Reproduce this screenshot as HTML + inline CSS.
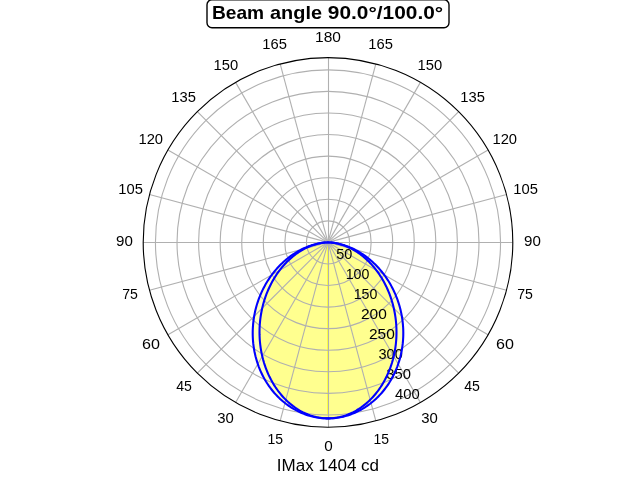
<!DOCTYPE html><html><head><meta charset="utf-8"><style>html,body{margin:0;padding:0;background:#fff;overflow:hidden}svg{display:block;will-change:transform}text{font-family:"Liberation Sans",sans-serif;fill:#000}</style></head><body>
<svg width="640" height="480" viewBox="0 0 640 480">
<rect width="640" height="480" fill="#fff"/>
<path d="M328.00 242.40 L327.63 242.40 L327.11 242.42 L326.50 242.44 L325.83 242.48 L325.12 242.53 L324.36 242.59 L323.58 242.67 L322.77 242.77 L321.93 242.88 L321.07 243.01 L320.19 243.15 L319.29 243.32 L318.38 243.50 L317.45 243.70 L316.51 243.91 L315.55 244.15 L314.58 244.41 L313.61 244.68 L312.62 244.97 L311.62 245.29 L310.62 245.62 L309.61 245.97 L308.59 246.35 L307.57 246.74 L306.54 247.16 L305.51 247.59 L304.47 248.05 L303.43 248.52 L302.39 249.02 L301.35 249.54 L300.30 250.08 L299.26 250.64 L298.21 251.22 L297.17 251.83 L296.13 252.45 L295.08 253.10 L294.04 253.76 L293.00 254.45 L291.97 255.16 L290.94 255.89 L289.91 256.64 L288.89 257.41 L287.87 258.21 L286.86 259.02 L285.85 259.86 L284.85 260.72 L283.86 261.59 L282.87 262.49 L281.89 263.41 L280.93 264.35 L279.97 265.31 L279.02 266.29 L278.08 267.29 L277.15 268.31 L276.23 269.35 L275.32 270.41 L274.42 271.49 L273.54 272.59 L272.67 273.71 L271.81 274.84 L270.96 276.00 L270.13 277.17 L269.31 278.36 L268.51 279.57 L267.73 280.80 L266.96 282.04 L266.20 283.30 L265.46 284.58 L264.74 285.88 L264.04 287.19 L263.35 288.51 L262.68 289.86 L262.03 291.21 L261.40 292.59 L260.79 293.97 L260.20 295.37 L259.63 296.79 L259.07 298.22 L258.54 299.66 L258.03 301.11 L257.54 302.58 L257.08 304.05 L256.63 305.54 L256.21 307.04 L255.81 308.55 L255.43 310.07 L255.08 311.60 L254.75 313.14 L254.44 314.68 L254.16 316.24 L253.90 317.80 L253.67 319.37 L253.46 320.95 L253.28 322.53 L253.12 324.12 L252.99 325.71 L252.88 327.31 L252.80 328.91 L252.74 330.52 L252.71 332.12 L252.71 333.73 L252.73 335.35 L252.78 336.96 L252.86 338.57 L252.96 340.19 L253.10 341.80 L253.25 343.41 L253.44 345.02 L253.65 346.63 L253.89 348.24 L254.16 349.84 L254.45 351.44 L254.78 353.03 L255.13 354.62 L255.50 356.20 L255.91 357.77 L256.34 359.34 L256.80 360.90 L257.28 362.45 L257.80 364.00 L258.34 365.53 L258.90 367.05 L259.50 368.56 L260.12 370.06 L260.77 371.55 L261.44 373.03 L262.14 374.49 L262.87 375.94 L263.62 377.37 L264.40 378.79 L265.21 380.19 L266.03 381.58 L266.89 382.95 L267.77 384.30 L268.67 385.63 L269.60 386.94 L270.55 388.24 L271.53 389.51 L272.53 390.77 L273.55 392.00 L274.59 393.21 L275.66 394.40 L276.75 395.57 L277.86 396.71 L278.99 397.83 L280.15 398.92 L281.32 399.99 L282.51 401.04 L283.72 402.05 L284.96 403.04 L286.21 404.01 L287.47 404.94 L288.76 405.85 L290.06 406.73 L291.38 407.59 L292.71 408.41 L294.06 409.20 L295.43 409.96 L296.81 410.69 L298.20 411.39 L299.61 412.06 L301.03 412.70 L302.46 413.30 L303.90 413.88 L305.35 414.42 L306.82 414.92 L308.29 415.40 L309.77 415.84 L311.26 416.24 L312.76 416.61 L314.26 416.95 L315.77 417.25 L317.29 417.52 L318.81 417.75 L320.34 417.95 L321.86 418.11 L323.40 418.24 L324.93 418.33 L326.46 418.38 L328.00 418.40 L329.54 418.38 L331.07 418.33 L332.60 418.24 L334.14 418.11 L335.66 417.95 L337.19 417.75 L338.71 417.52 L340.23 417.25 L341.74 416.95 L343.24 416.61 L344.74 416.24 L346.23 415.84 L347.71 415.40 L349.18 414.92 L350.65 414.42 L352.10 413.88 L353.54 413.30 L354.97 412.70 L356.39 412.06 L357.80 411.39 L359.19 410.69 L360.57 409.96 L361.94 409.20 L363.29 408.41 L364.62 407.59 L365.94 406.73 L367.24 405.85 L368.53 404.94 L369.79 404.01 L371.04 403.04 L372.28 402.05 L373.49 401.04 L374.68 399.99 L375.85 398.92 L377.01 397.83 L378.14 396.71 L379.25 395.57 L380.34 394.40 L381.41 393.21 L382.45 392.00 L383.47 390.77 L384.47 389.51 L385.45 388.24 L386.40 386.94 L387.33 385.63 L388.23 384.30 L389.11 382.95 L389.97 381.58 L390.79 380.19 L391.60 378.79 L392.38 377.37 L393.13 375.94 L393.86 374.49 L394.56 373.03 L395.23 371.55 L395.88 370.06 L396.50 368.56 L397.10 367.05 L397.66 365.53 L398.20 364.00 L398.72 362.45 L399.20 360.90 L399.66 359.34 L400.09 357.77 L400.50 356.20 L400.87 354.62 L401.22 353.03 L401.55 351.44 L401.84 349.84 L402.11 348.24 L402.35 346.63 L402.56 345.02 L402.75 343.41 L402.90 341.80 L403.04 340.19 L403.14 338.57 L403.22 336.96 L403.27 335.35 L403.29 333.73 L403.29 332.12 L403.26 330.52 L403.20 328.91 L403.12 327.31 L403.01 325.71 L402.88 324.12 L402.72 322.53 L402.54 320.95 L402.33 319.37 L402.10 317.80 L401.84 316.24 L401.56 314.68 L401.25 313.14 L400.92 311.60 L400.57 310.07 L400.19 308.55 L399.79 307.04 L399.37 305.54 L398.92 304.05 L398.46 302.58 L397.97 301.11 L397.46 299.66 L396.93 298.22 L396.37 296.79 L395.80 295.37 L395.21 293.97 L394.60 292.59 L393.97 291.21 L393.32 289.86 L392.65 288.51 L391.96 287.19 L391.26 285.88 L390.54 284.58 L389.80 283.30 L389.04 282.04 L388.27 280.80 L387.49 279.57 L386.69 278.36 L385.87 277.17 L385.04 276.00 L384.19 274.84 L383.33 273.71 L382.46 272.59 L381.58 271.49 L380.68 270.41 L379.77 269.35 L378.85 268.31 L377.92 267.29 L376.98 266.29 L376.03 265.31 L375.07 264.35 L374.11 263.41 L373.13 262.49 L372.14 261.59 L371.15 260.72 L370.15 259.86 L369.14 259.02 L368.13 258.21 L367.11 257.41 L366.09 256.64 L365.06 255.89 L364.03 255.16 L363.00 254.45 L361.96 253.76 L360.92 253.10 L359.87 252.45 L358.83 251.83 L357.79 251.22 L356.74 250.64 L355.70 250.08 L354.65 249.54 L353.61 249.02 L352.57 248.52 L351.53 248.05 L350.49 247.59 L349.46 247.16 L348.43 246.74 L347.41 246.35 L346.39 245.97 L345.38 245.62 L344.38 245.29 L343.38 244.97 L342.39 244.68 L341.42 244.41 L340.45 244.15 L339.49 243.91 L338.55 243.70 L337.62 243.50 L336.71 243.32 L335.81 243.15 L334.93 243.01 L334.07 242.88 L333.23 242.77 L332.42 242.67 L331.64 242.59 L330.88 242.53 L330.17 242.48 L329.50 242.44 L328.89 242.42 L328.37 242.40 L328.00 242.40 Z" fill="#ffff00" fill-opacity="0.25" stroke="none"/>
<path d="M328.00 242.40 L327.63 242.40 L327.12 242.42 L326.53 242.44 L325.90 242.47 L325.23 242.52 L324.54 242.58 L323.82 242.66 L323.09 242.74 L322.33 242.85 L321.57 242.96 L320.79 243.09 L320.00 243.24 L319.20 243.40 L318.40 243.58 L317.58 243.77 L316.76 243.98 L315.93 244.20 L315.10 244.44 L314.26 244.70 L313.41 244.97 L312.56 245.26 L311.71 245.57 L310.85 245.89 L309.99 246.23 L309.13 246.58 L308.26 246.96 L307.40 247.35 L306.53 247.75 L305.66 248.18 L304.79 248.62 L303.91 249.08 L303.04 249.56 L302.17 250.05 L301.29 250.57 L300.42 251.10 L299.55 251.65 L298.68 252.21 L297.80 252.80 L296.94 253.40 L296.07 254.02 L295.20 254.66 L294.34 255.32 L293.48 256.00 L292.62 256.69 L291.77 257.41 L290.92 258.14 L290.07 258.89 L289.23 259.66 L288.39 260.45 L287.56 261.26 L286.73 262.08 L285.91 262.93 L285.09 263.79 L284.28 264.68 L283.48 265.58 L282.68 266.50 L281.89 267.43 L281.11 268.39 L280.33 269.37 L279.57 270.36 L278.81 271.37 L278.06 272.41 L277.32 273.46 L276.59 274.52 L275.87 275.61 L275.16 276.71 L274.46 277.83 L273.78 278.97 L273.10 280.13 L272.44 281.31 L271.78 282.50 L271.14 283.71 L270.52 284.94 L269.90 286.18 L269.30 287.44 L268.72 288.72 L268.15 290.01 L267.59 291.32 L267.05 292.64 L266.52 293.99 L266.01 295.34 L265.52 296.71 L265.04 298.10 L264.58 299.50 L264.14 300.92 L263.72 302.35 L263.31 303.79 L262.92 305.24 L262.55 306.71 L262.20 308.20 L261.88 309.69 L261.57 311.20 L261.28 312.71 L261.01 314.24 L260.76 315.78 L260.53 317.33 L260.33 318.89 L260.15 320.46 L259.99 322.03 L259.85 323.62 L259.73 325.21 L259.64 326.81 L259.57 328.42 L259.53 330.04 L259.51 331.66 L259.52 333.28 L259.54 334.91 L259.60 336.55 L259.68 338.18 L259.78 339.83 L259.91 341.47 L260.07 343.11 L260.25 344.76 L260.46 346.40 L260.69 348.05 L260.95 349.70 L261.24 351.34 L261.56 352.98 L261.90 354.62 L262.27 356.25 L262.66 357.88 L263.08 359.51 L263.54 361.13 L264.01 362.74 L264.52 364.35 L265.05 365.95 L265.61 367.53 L266.20 369.11 L266.81 370.68 L267.45 372.24 L268.12 373.79 L268.82 375.32 L269.54 376.84 L270.30 378.34 L271.07 379.83 L271.88 381.31 L272.71 382.76 L273.57 384.20 L274.45 385.62 L275.36 387.03 L276.30 388.41 L277.26 389.77 L278.24 391.11 L279.25 392.42 L280.29 393.72 L281.35 394.99 L282.43 396.23 L283.54 397.45 L284.67 398.64 L285.82 399.80 L287.00 400.94 L288.20 402.05 L289.41 403.12 L290.65 404.17 L291.91 405.18 L293.19 406.17 L294.49 407.12 L295.80 408.03 L297.14 408.92 L298.49 409.76 L299.86 410.58 L301.24 411.35 L302.64 412.09 L304.05 412.79 L305.48 413.45 L306.92 414.07 L308.37 414.66 L309.84 415.20 L311.31 415.70 L312.80 416.16 L314.29 416.58 L315.79 416.96 L317.30 417.30 L318.82 417.59 L320.34 417.83 L321.87 418.04 L323.40 418.20 L324.93 418.31 L326.46 418.38 L328.00 418.40 L329.54 418.38 L331.07 418.31 L332.60 418.20 L334.13 418.04 L335.66 417.83 L337.18 417.59 L338.70 417.30 L340.21 416.96 L341.71 416.58 L343.20 416.16 L344.69 415.70 L346.16 415.20 L347.63 414.66 L349.08 414.07 L350.52 413.45 L351.95 412.79 L353.36 412.09 L354.76 411.35 L356.14 410.58 L357.51 409.76 L358.86 408.92 L360.20 408.03 L361.51 407.12 L362.81 406.17 L364.09 405.18 L365.35 404.17 L366.59 403.12 L367.80 402.05 L369.00 400.94 L370.18 399.80 L371.33 398.64 L372.46 397.45 L373.57 396.23 L374.65 394.99 L375.71 393.72 L376.75 392.42 L377.76 391.11 L378.74 389.77 L379.70 388.41 L380.64 387.03 L381.55 385.62 L382.43 384.20 L383.29 382.76 L384.12 381.31 L384.93 379.83 L385.70 378.34 L386.46 376.84 L387.18 375.32 L387.88 373.79 L388.55 372.24 L389.19 370.68 L389.80 369.11 L390.39 367.53 L390.95 365.95 L391.48 364.35 L391.99 362.74 L392.46 361.13 L392.92 359.51 L393.34 357.88 L393.73 356.25 L394.10 354.62 L394.44 352.98 L394.76 351.34 L395.05 349.70 L395.31 348.05 L395.54 346.40 L395.75 344.76 L395.93 343.11 L396.09 341.47 L396.22 339.83 L396.32 338.18 L396.40 336.55 L396.46 334.91 L396.48 333.28 L396.49 331.66 L396.47 330.04 L396.43 328.42 L396.36 326.81 L396.27 325.21 L396.15 323.62 L396.01 322.03 L395.85 320.46 L395.67 318.89 L395.47 317.33 L395.24 315.78 L394.99 314.24 L394.72 312.71 L394.43 311.20 L394.12 309.69 L393.80 308.20 L393.45 306.71 L393.08 305.24 L392.69 303.79 L392.28 302.35 L391.86 300.92 L391.42 299.50 L390.96 298.10 L390.48 296.71 L389.99 295.34 L389.48 293.99 L388.95 292.64 L388.41 291.32 L387.85 290.01 L387.28 288.72 L386.70 287.44 L386.10 286.18 L385.48 284.94 L384.86 283.71 L384.22 282.50 L383.56 281.31 L382.90 280.13 L382.22 278.97 L381.54 277.83 L380.84 276.71 L380.13 275.61 L379.41 274.52 L378.68 273.46 L377.94 272.41 L377.19 271.37 L376.43 270.36 L375.67 269.37 L374.89 268.39 L374.11 267.43 L373.32 266.50 L372.52 265.58 L371.72 264.68 L370.91 263.79 L370.09 262.93 L369.27 262.08 L368.44 261.26 L367.61 260.45 L366.77 259.66 L365.93 258.89 L365.08 258.14 L364.23 257.41 L363.38 256.69 L362.52 256.00 L361.66 255.32 L360.80 254.66 L359.93 254.02 L359.06 253.40 L358.20 252.80 L357.32 252.21 L356.45 251.65 L355.58 251.10 L354.71 250.57 L353.83 250.05 L352.96 249.56 L352.09 249.08 L351.21 248.62 L350.34 248.18 L349.47 247.75 L348.60 247.35 L347.74 246.96 L346.87 246.58 L346.01 246.23 L345.15 245.89 L344.29 245.57 L343.44 245.26 L342.59 244.97 L341.74 244.70 L340.90 244.44 L340.07 244.20 L339.24 243.98 L338.42 243.77 L337.60 243.58 L336.80 243.40 L336.00 243.24 L335.21 243.09 L334.43 242.96 L333.67 242.85 L332.91 242.74 L332.18 242.66 L331.46 242.58 L330.77 242.52 L330.10 242.47 L329.47 242.44 L328.88 242.42 L328.37 242.40 L328.00 242.40 Z" fill="#ffff00" fill-opacity="0.25" stroke="none"/>
<rect x="327" y="244.5" width="1" height="170" fill="#ffff3c"/>
<g fill="none" stroke="#b0b0b0" stroke-width="1.111"><circle cx="328.00" cy="242.40" r="21.569"/><circle cx="328.00" cy="242.40" r="43.137"/><circle cx="328.00" cy="242.40" r="64.706"/><circle cx="328.00" cy="242.40" r="86.275"/><circle cx="328.00" cy="242.40" r="107.843"/><circle cx="328.00" cy="242.40" r="129.412"/><circle cx="328.00" cy="242.40" r="150.980"/><circle cx="328.00" cy="242.40" r="172.549"/><line x1="328.50" y1="242.40" x2="328.500" y2="427.200"/><line x1="328.00" y1="242.40" x2="375.830" y2="420.903"/><line x1="328.00" y1="242.40" x2="420.400" y2="402.441"/><line x1="328.00" y1="242.40" x2="458.673" y2="373.073"/><line x1="328.00" y1="242.40" x2="488.041" y2="334.800"/><line x1="328.00" y1="242.40" x2="506.503" y2="290.230"/><line x1="328.00" y1="242.50" x2="512.800" y2="242.500"/><line x1="328.00" y1="242.40" x2="506.503" y2="194.570"/><line x1="328.00" y1="242.40" x2="488.041" y2="150.000"/><line x1="328.00" y1="242.40" x2="458.673" y2="111.727"/><line x1="328.00" y1="242.40" x2="420.400" y2="82.359"/><line x1="328.00" y1="242.40" x2="375.830" y2="63.897"/><line x1="328.50" y1="242.40" x2="328.500" y2="57.600"/><line x1="328.00" y1="242.40" x2="280.170" y2="63.897"/><line x1="328.00" y1="242.40" x2="235.600" y2="82.359"/><line x1="328.00" y1="242.40" x2="197.327" y2="111.727"/><line x1="328.00" y1="242.40" x2="167.959" y2="150.000"/><line x1="328.00" y1="242.40" x2="149.497" y2="194.570"/><line x1="328.00" y1="242.50" x2="143.200" y2="242.500"/><line x1="328.00" y1="242.40" x2="149.497" y2="290.230"/><line x1="328.00" y1="242.40" x2="167.959" y2="334.800"/><line x1="328.00" y1="242.40" x2="197.327" y2="373.073"/><line x1="328.00" y1="242.40" x2="235.600" y2="402.441"/><line x1="328.00" y1="242.40" x2="280.170" y2="420.903"/></g>
<text transform="translate(328.45 451.00) scale(1.0779 1)" text-anchor="middle" font-size="14.14">0</text><text transform="translate(381.29 444.00) scale(0.9880 1)" text-anchor="middle" font-size="14.14">15</text><text transform="translate(429.51 423.00) scale(1.0545 1)" text-anchor="middle" font-size="14.14">30</text><text transform="translate(472.02 391.00) scale(0.9975 1)" text-anchor="middle" font-size="14.14">45</text><text transform="translate(504.89 349.00) scale(1.1400 1)" text-anchor="middle" font-size="14.14">60</text><text transform="translate(524.97 299.00) scale(0.9975 1)" text-anchor="middle" font-size="14.14">75</text><text transform="translate(532.48 246.00) scale(1.0682 1)" text-anchor="middle" font-size="14.14">90</text><text transform="translate(525.58 194.00) scale(1.0450 1)" text-anchor="middle" font-size="14.14">105</text><text transform="translate(504.77 144.00) scale(1.0450 1)" text-anchor="middle" font-size="14.14">120</text><text transform="translate(472.62 102.00) scale(1.0450 1)" text-anchor="middle" font-size="14.14">135</text><text transform="translate(429.78 70.00) scale(1.0450 1)" text-anchor="middle" font-size="14.14">150</text><text transform="translate(380.60 49.00) scale(1.0450 1)" text-anchor="middle" font-size="14.14">165</text><text transform="translate(328.01 42.00) scale(1.0984 1)" text-anchor="middle" font-size="14.14">180</text><text transform="translate(274.60 49.00) scale(1.0450 1)" text-anchor="middle" font-size="14.14">165</text><text transform="translate(225.78 70.00) scale(1.0450 1)" text-anchor="middle" font-size="14.14">150</text><text transform="translate(183.62 102.00) scale(1.0450 1)" text-anchor="middle" font-size="14.14">135</text><text transform="translate(150.77 144.00) scale(1.0450 1)" text-anchor="middle" font-size="14.14">120</text><text transform="translate(130.58 194.00) scale(1.0450 1)" text-anchor="middle" font-size="14.14">105</text><text transform="translate(124.48 246.00) scale(1.0682 1)" text-anchor="middle" font-size="14.14">90</text><text transform="translate(129.97 299.00) scale(0.9975 1)" text-anchor="middle" font-size="14.14">75</text><text transform="translate(150.89 349.00) scale(1.1400 1)" text-anchor="middle" font-size="14.14">60</text><text transform="translate(184.02 391.00) scale(0.9975 1)" text-anchor="middle" font-size="14.14">45</text><text transform="translate(225.51 423.00) scale(1.0545 1)" text-anchor="middle" font-size="14.14">30</text><text transform="translate(275.29 444.00) scale(0.9880 1)" text-anchor="middle" font-size="14.14">15</text><text transform="translate(344.27 259.00) scale(1.0244 1)" text-anchor="middle" font-size="14.14">50</text><text transform="translate(357.53 279.00) scale(1.0032 1)" text-anchor="middle" font-size="14.14">100</text><text transform="translate(365.54 299.00) scale(1.0032 1)" text-anchor="middle" font-size="14.14">150</text><text transform="translate(373.92 319.00) scale(1.0944 1)" text-anchor="middle" font-size="14.14">200</text><text transform="translate(381.92 339.00) scale(1.0944 1)" text-anchor="middle" font-size="14.14">250</text><text transform="translate(390.60 359.00) scale(1.0288 1)" text-anchor="middle" font-size="14.14">300</text><text transform="translate(398.63 379.00) scale(1.0470 1)" text-anchor="middle" font-size="14.14">350</text><text transform="translate(407.45 399.00) scale(1.0488 1)" text-anchor="middle" font-size="14.14">400</text>
<path d="M328.00 242.40 L327.63 242.40 L327.11 242.42 L326.50 242.44 L325.83 242.48 L325.12 242.53 L324.36 242.59 L323.58 242.67 L322.77 242.77 L321.93 242.88 L321.07 243.01 L320.19 243.15 L319.29 243.32 L318.38 243.50 L317.45 243.70 L316.51 243.91 L315.55 244.15 L314.58 244.41 L313.61 244.68 L312.62 244.97 L311.62 245.29 L310.62 245.62 L309.61 245.97 L308.59 246.35 L307.57 246.74 L306.54 247.16 L305.51 247.59 L304.47 248.05 L303.43 248.52 L302.39 249.02 L301.35 249.54 L300.30 250.08 L299.26 250.64 L298.21 251.22 L297.17 251.83 L296.13 252.45 L295.08 253.10 L294.04 253.76 L293.00 254.45 L291.97 255.16 L290.94 255.89 L289.91 256.64 L288.89 257.41 L287.87 258.21 L286.86 259.02 L285.85 259.86 L284.85 260.72 L283.86 261.59 L282.87 262.49 L281.89 263.41 L280.93 264.35 L279.97 265.31 L279.02 266.29 L278.08 267.29 L277.15 268.31 L276.23 269.35 L275.32 270.41 L274.42 271.49 L273.54 272.59 L272.67 273.71 L271.81 274.84 L270.96 276.00 L270.13 277.17 L269.31 278.36 L268.51 279.57 L267.73 280.80 L266.96 282.04 L266.20 283.30 L265.46 284.58 L264.74 285.88 L264.04 287.19 L263.35 288.51 L262.68 289.86 L262.03 291.21 L261.40 292.59 L260.79 293.97 L260.20 295.37 L259.63 296.79 L259.07 298.22 L258.54 299.66 L258.03 301.11 L257.54 302.58 L257.08 304.05 L256.63 305.54 L256.21 307.04 L255.81 308.55 L255.43 310.07 L255.08 311.60 L254.75 313.14 L254.44 314.68 L254.16 316.24 L253.90 317.80 L253.67 319.37 L253.46 320.95 L253.28 322.53 L253.12 324.12 L252.99 325.71 L252.88 327.31 L252.80 328.91 L252.74 330.52 L252.71 332.12 L252.71 333.73 L252.73 335.35 L252.78 336.96 L252.86 338.57 L252.96 340.19 L253.10 341.80 L253.25 343.41 L253.44 345.02 L253.65 346.63 L253.89 348.24 L254.16 349.84 L254.45 351.44 L254.78 353.03 L255.13 354.62 L255.50 356.20 L255.91 357.77 L256.34 359.34 L256.80 360.90 L257.28 362.45 L257.80 364.00 L258.34 365.53 L258.90 367.05 L259.50 368.56 L260.12 370.06 L260.77 371.55 L261.44 373.03 L262.14 374.49 L262.87 375.94 L263.62 377.37 L264.40 378.79 L265.21 380.19 L266.03 381.58 L266.89 382.95 L267.77 384.30 L268.67 385.63 L269.60 386.94 L270.55 388.24 L271.53 389.51 L272.53 390.77 L273.55 392.00 L274.59 393.21 L275.66 394.40 L276.75 395.57 L277.86 396.71 L278.99 397.83 L280.15 398.92 L281.32 399.99 L282.51 401.04 L283.72 402.05 L284.96 403.04 L286.21 404.01 L287.47 404.94 L288.76 405.85 L290.06 406.73 L291.38 407.59 L292.71 408.41 L294.06 409.20 L295.43 409.96 L296.81 410.69 L298.20 411.39 L299.61 412.06 L301.03 412.70 L302.46 413.30 L303.90 413.88 L305.35 414.42 L306.82 414.92 L308.29 415.40 L309.77 415.84 L311.26 416.24 L312.76 416.61 L314.26 416.95 L315.77 417.25 L317.29 417.52 L318.81 417.75 L320.34 417.95 L321.86 418.11 L323.40 418.24 L324.93 418.33 L326.46 418.38 L328.00 418.40 L329.54 418.38 L331.07 418.33 L332.60 418.24 L334.14 418.11 L335.66 417.95 L337.19 417.75 L338.71 417.52 L340.23 417.25 L341.74 416.95 L343.24 416.61 L344.74 416.24 L346.23 415.84 L347.71 415.40 L349.18 414.92 L350.65 414.42 L352.10 413.88 L353.54 413.30 L354.97 412.70 L356.39 412.06 L357.80 411.39 L359.19 410.69 L360.57 409.96 L361.94 409.20 L363.29 408.41 L364.62 407.59 L365.94 406.73 L367.24 405.85 L368.53 404.94 L369.79 404.01 L371.04 403.04 L372.28 402.05 L373.49 401.04 L374.68 399.99 L375.85 398.92 L377.01 397.83 L378.14 396.71 L379.25 395.57 L380.34 394.40 L381.41 393.21 L382.45 392.00 L383.47 390.77 L384.47 389.51 L385.45 388.24 L386.40 386.94 L387.33 385.63 L388.23 384.30 L389.11 382.95 L389.97 381.58 L390.79 380.19 L391.60 378.79 L392.38 377.37 L393.13 375.94 L393.86 374.49 L394.56 373.03 L395.23 371.55 L395.88 370.06 L396.50 368.56 L397.10 367.05 L397.66 365.53 L398.20 364.00 L398.72 362.45 L399.20 360.90 L399.66 359.34 L400.09 357.77 L400.50 356.20 L400.87 354.62 L401.22 353.03 L401.55 351.44 L401.84 349.84 L402.11 348.24 L402.35 346.63 L402.56 345.02 L402.75 343.41 L402.90 341.80 L403.04 340.19 L403.14 338.57 L403.22 336.96 L403.27 335.35 L403.29 333.73 L403.29 332.12 L403.26 330.52 L403.20 328.91 L403.12 327.31 L403.01 325.71 L402.88 324.12 L402.72 322.53 L402.54 320.95 L402.33 319.37 L402.10 317.80 L401.84 316.24 L401.56 314.68 L401.25 313.14 L400.92 311.60 L400.57 310.07 L400.19 308.55 L399.79 307.04 L399.37 305.54 L398.92 304.05 L398.46 302.58 L397.97 301.11 L397.46 299.66 L396.93 298.22 L396.37 296.79 L395.80 295.37 L395.21 293.97 L394.60 292.59 L393.97 291.21 L393.32 289.86 L392.65 288.51 L391.96 287.19 L391.26 285.88 L390.54 284.58 L389.80 283.30 L389.04 282.04 L388.27 280.80 L387.49 279.57 L386.69 278.36 L385.87 277.17 L385.04 276.00 L384.19 274.84 L383.33 273.71 L382.46 272.59 L381.58 271.49 L380.68 270.41 L379.77 269.35 L378.85 268.31 L377.92 267.29 L376.98 266.29 L376.03 265.31 L375.07 264.35 L374.11 263.41 L373.13 262.49 L372.14 261.59 L371.15 260.72 L370.15 259.86 L369.14 259.02 L368.13 258.21 L367.11 257.41 L366.09 256.64 L365.06 255.89 L364.03 255.16 L363.00 254.45 L361.96 253.76 L360.92 253.10 L359.87 252.45 L358.83 251.83 L357.79 251.22 L356.74 250.64 L355.70 250.08 L354.65 249.54 L353.61 249.02 L352.57 248.52 L351.53 248.05 L350.49 247.59 L349.46 247.16 L348.43 246.74 L347.41 246.35 L346.39 245.97 L345.38 245.62 L344.38 245.29 L343.38 244.97 L342.39 244.68 L341.42 244.41 L340.45 244.15 L339.49 243.91 L338.55 243.70 L337.62 243.50 L336.71 243.32 L335.81 243.15 L334.93 243.01 L334.07 242.88 L333.23 242.77 L332.42 242.67 L331.64 242.59 L330.88 242.53 L330.17 242.48 L329.50 242.44 L328.89 242.42 L328.37 242.40 L328.00 242.40" fill="none" stroke="#0000ff" stroke-width="2.083" stroke-linejoin="miter"/>
<path d="M328.00 242.40 L327.63 242.40 L327.12 242.42 L326.53 242.44 L325.90 242.47 L325.23 242.52 L324.54 242.58 L323.82 242.66 L323.09 242.74 L322.33 242.85 L321.57 242.96 L320.79 243.09 L320.00 243.24 L319.20 243.40 L318.40 243.58 L317.58 243.77 L316.76 243.98 L315.93 244.20 L315.10 244.44 L314.26 244.70 L313.41 244.97 L312.56 245.26 L311.71 245.57 L310.85 245.89 L309.99 246.23 L309.13 246.58 L308.26 246.96 L307.40 247.35 L306.53 247.75 L305.66 248.18 L304.79 248.62 L303.91 249.08 L303.04 249.56 L302.17 250.05 L301.29 250.57 L300.42 251.10 L299.55 251.65 L298.68 252.21 L297.80 252.80 L296.94 253.40 L296.07 254.02 L295.20 254.66 L294.34 255.32 L293.48 256.00 L292.62 256.69 L291.77 257.41 L290.92 258.14 L290.07 258.89 L289.23 259.66 L288.39 260.45 L287.56 261.26 L286.73 262.08 L285.91 262.93 L285.09 263.79 L284.28 264.68 L283.48 265.58 L282.68 266.50 L281.89 267.43 L281.11 268.39 L280.33 269.37 L279.57 270.36 L278.81 271.37 L278.06 272.41 L277.32 273.46 L276.59 274.52 L275.87 275.61 L275.16 276.71 L274.46 277.83 L273.78 278.97 L273.10 280.13 L272.44 281.31 L271.78 282.50 L271.14 283.71 L270.52 284.94 L269.90 286.18 L269.30 287.44 L268.72 288.72 L268.15 290.01 L267.59 291.32 L267.05 292.64 L266.52 293.99 L266.01 295.34 L265.52 296.71 L265.04 298.10 L264.58 299.50 L264.14 300.92 L263.72 302.35 L263.31 303.79 L262.92 305.24 L262.55 306.71 L262.20 308.20 L261.88 309.69 L261.57 311.20 L261.28 312.71 L261.01 314.24 L260.76 315.78 L260.53 317.33 L260.33 318.89 L260.15 320.46 L259.99 322.03 L259.85 323.62 L259.73 325.21 L259.64 326.81 L259.57 328.42 L259.53 330.04 L259.51 331.66 L259.52 333.28 L259.54 334.91 L259.60 336.55 L259.68 338.18 L259.78 339.83 L259.91 341.47 L260.07 343.11 L260.25 344.76 L260.46 346.40 L260.69 348.05 L260.95 349.70 L261.24 351.34 L261.56 352.98 L261.90 354.62 L262.27 356.25 L262.66 357.88 L263.08 359.51 L263.54 361.13 L264.01 362.74 L264.52 364.35 L265.05 365.95 L265.61 367.53 L266.20 369.11 L266.81 370.68 L267.45 372.24 L268.12 373.79 L268.82 375.32 L269.54 376.84 L270.30 378.34 L271.07 379.83 L271.88 381.31 L272.71 382.76 L273.57 384.20 L274.45 385.62 L275.36 387.03 L276.30 388.41 L277.26 389.77 L278.24 391.11 L279.25 392.42 L280.29 393.72 L281.35 394.99 L282.43 396.23 L283.54 397.45 L284.67 398.64 L285.82 399.80 L287.00 400.94 L288.20 402.05 L289.41 403.12 L290.65 404.17 L291.91 405.18 L293.19 406.17 L294.49 407.12 L295.80 408.03 L297.14 408.92 L298.49 409.76 L299.86 410.58 L301.24 411.35 L302.64 412.09 L304.05 412.79 L305.48 413.45 L306.92 414.07 L308.37 414.66 L309.84 415.20 L311.31 415.70 L312.80 416.16 L314.29 416.58 L315.79 416.96 L317.30 417.30 L318.82 417.59 L320.34 417.83 L321.87 418.04 L323.40 418.20 L324.93 418.31 L326.46 418.38 L328.00 418.40 L329.54 418.38 L331.07 418.31 L332.60 418.20 L334.13 418.04 L335.66 417.83 L337.18 417.59 L338.70 417.30 L340.21 416.96 L341.71 416.58 L343.20 416.16 L344.69 415.70 L346.16 415.20 L347.63 414.66 L349.08 414.07 L350.52 413.45 L351.95 412.79 L353.36 412.09 L354.76 411.35 L356.14 410.58 L357.51 409.76 L358.86 408.92 L360.20 408.03 L361.51 407.12 L362.81 406.17 L364.09 405.18 L365.35 404.17 L366.59 403.12 L367.80 402.05 L369.00 400.94 L370.18 399.80 L371.33 398.64 L372.46 397.45 L373.57 396.23 L374.65 394.99 L375.71 393.72 L376.75 392.42 L377.76 391.11 L378.74 389.77 L379.70 388.41 L380.64 387.03 L381.55 385.62 L382.43 384.20 L383.29 382.76 L384.12 381.31 L384.93 379.83 L385.70 378.34 L386.46 376.84 L387.18 375.32 L387.88 373.79 L388.55 372.24 L389.19 370.68 L389.80 369.11 L390.39 367.53 L390.95 365.95 L391.48 364.35 L391.99 362.74 L392.46 361.13 L392.92 359.51 L393.34 357.88 L393.73 356.25 L394.10 354.62 L394.44 352.98 L394.76 351.34 L395.05 349.70 L395.31 348.05 L395.54 346.40 L395.75 344.76 L395.93 343.11 L396.09 341.47 L396.22 339.83 L396.32 338.18 L396.40 336.55 L396.46 334.91 L396.48 333.28 L396.49 331.66 L396.47 330.04 L396.43 328.42 L396.36 326.81 L396.27 325.21 L396.15 323.62 L396.01 322.03 L395.85 320.46 L395.67 318.89 L395.47 317.33 L395.24 315.78 L394.99 314.24 L394.72 312.71 L394.43 311.20 L394.12 309.69 L393.80 308.20 L393.45 306.71 L393.08 305.24 L392.69 303.79 L392.28 302.35 L391.86 300.92 L391.42 299.50 L390.96 298.10 L390.48 296.71 L389.99 295.34 L389.48 293.99 L388.95 292.64 L388.41 291.32 L387.85 290.01 L387.28 288.72 L386.70 287.44 L386.10 286.18 L385.48 284.94 L384.86 283.71 L384.22 282.50 L383.56 281.31 L382.90 280.13 L382.22 278.97 L381.54 277.83 L380.84 276.71 L380.13 275.61 L379.41 274.52 L378.68 273.46 L377.94 272.41 L377.19 271.37 L376.43 270.36 L375.67 269.37 L374.89 268.39 L374.11 267.43 L373.32 266.50 L372.52 265.58 L371.72 264.68 L370.91 263.79 L370.09 262.93 L369.27 262.08 L368.44 261.26 L367.61 260.45 L366.77 259.66 L365.93 258.89 L365.08 258.14 L364.23 257.41 L363.38 256.69 L362.52 256.00 L361.66 255.32 L360.80 254.66 L359.93 254.02 L359.06 253.40 L358.20 252.80 L357.32 252.21 L356.45 251.65 L355.58 251.10 L354.71 250.57 L353.83 250.05 L352.96 249.56 L352.09 249.08 L351.21 248.62 L350.34 248.18 L349.47 247.75 L348.60 247.35 L347.74 246.96 L346.87 246.58 L346.01 246.23 L345.15 245.89 L344.29 245.57 L343.44 245.26 L342.59 244.97 L341.74 244.70 L340.90 244.44 L340.07 244.20 L339.24 243.98 L338.42 243.77 L337.60 243.58 L336.80 243.40 L336.00 243.24 L335.21 243.09 L334.43 242.96 L333.67 242.85 L332.91 242.74 L332.18 242.66 L331.46 242.58 L330.77 242.52 L330.10 242.47 L329.47 242.44 L328.88 242.42 L328.37 242.40 L328.00 242.40" fill="none" stroke="#0000ff" stroke-width="2.083" stroke-linejoin="miter"/>
<circle cx="328.00" cy="242.40" r="184.80" fill="none" stroke="#000" stroke-width="1.111"/>
<rect x="207.00" y="-0.21" width="242.00" height="28.00" rx="5.00" ry="5.00" fill="#fff" stroke="#000" stroke-width="1.389"/>
<text transform="translate(238.00 19.00) scale(1.0425 1)" text-anchor="middle" font-size="18.38" font-weight="bold">Beam</text>
<text transform="translate(296.00 19.00) scale(1.0833 1)" text-anchor="middle" font-size="18.38" font-weight="bold">angle</text>
<text transform="translate(385.50 19.00) scale(1.1351 1)" text-anchor="middle" font-size="18.38" font-weight="bold">90.0°/100.0°</text>
<text transform="translate(327.96 471.00) scale(1.0044 1)" text-anchor="middle" font-size="16.97">IMax 1404 cd</text>
</svg></body></html>
